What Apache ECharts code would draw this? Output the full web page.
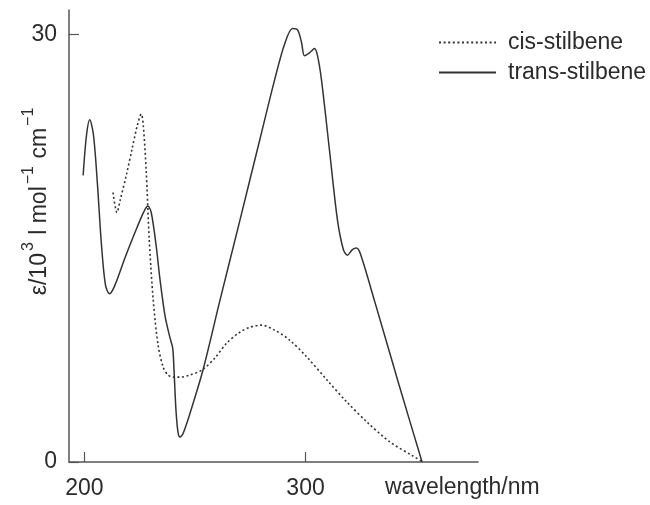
<!DOCTYPE html>
<html>
<head>
<meta charset="utf-8">
<script src="https://cdn.jsdelivr.net/npm/echarts@6/dist/echarts.min.js"></script>
<style>
  html, body { margin: 0; padding: 0; background: #fff; }
  #chart { width: 650px; height: 505px; }
</style>
</head>
<body>
<div id="chart"></div>
<script>
// wavelength (nm) / epsilon (10^3 l mol-1 cm-1)
const transWl = [199.4, 200.9, 202.4, 204.1, 205.9, 207.7, 209.5, 211.3, 213.5, 218.5, 223.9, 227.0, 228.7, 230.2, 232.4, 234.2, 236.5, 238.7, 239.9, 240.5, 241.4, 242.3, 243.2, 244.6, 247.7, 253.6, 261.3, 270.3, 279.3, 286.0, 290.5, 294.1, 296.4, 298.2, 299.5, 301.8, 304.1, 305.4, 307.2, 310.8, 314.4, 317.1, 318.9, 321.2, 323.0, 324.8, 331.1, 342.3, 352.7];
const transEps = [20.1, 22.9, 24.0, 22.9, 19.4, 15.2, 12.4, 11.8, 12.3, 14.4, 16.5, 17.6, 17.95, 17.5, 15.2, 12.75, 10.2, 8.7, 8.0, 6.45, 3.6, 2.1, 1.75, 2.0, 3.4, 6.45, 11.35, 16.95, 22.6, 26.8, 29.3, 30.4, 30.3, 29.4, 28.5, 28.7, 29.0, 28.5, 26.8, 21.9, 17.0, 14.9, 14.5, 14.9, 15.0, 14.6, 11.35, 5.4, 0];

const cisWl = [212.9, 214.7, 216.2, 218.9, 221.6, 223.9, 225.7, 226.6, 227.9, 229.3, 231.1, 233.3, 235.6, 237.8, 240.1, 243.2, 247.7, 253.6, 259.0, 264.4, 270.3, 274.8, 280.0, 286.0, 292.8, 300.6, 309.7, 318.7, 327.8, 338.2, 348.6, 353.1];
const cisEps = [18.9, 17.5, 18.4, 20.1, 22.0, 23.6, 24.4, 23.6, 20.5, 15.6, 11.35, 8.2, 6.65, 6.1, 5.95, 5.95, 6.1, 6.5, 7.3, 8.35, 9.1, 9.45, 9.6, 9.25, 8.55, 7.36, 5.75, 4.2, 2.8, 1.4, 0.42, 0];

const xTicks = [200, 300];
const yTicks = [0, 30];

const font = '"Liberation Sans", Arial, "DejaVu Sans", sans-serif';
const ink = "#2b2b2b";

const chart = echarts.init(document.getElementById("chart"));

chart.setOption({
  animation: false,
  backgroundColor: "#fff",
  grid: { left: 69, right: 172, top: 10, bottom: 43, outerBoundsMode: "none" },
  legend: {
    orient: "vertical",
    left: 438,
    top: 31,
    padding: 0,
    itemWidth: 57,
    itemHeight: 16,
    itemGap: 7,
    itemStyle: { opacity: 0 },
    data: ["cis-stilbene", "trans-stilbene"],
    textStyle: { fontFamily: font, fontSize: 23, color: ink, padding: [0, 0, 0, 7] }
  },
  xAxis: {
    type: "value",
    min: 193,
    max: 378,
    splitLine: { show: false },
    axisLine: { lineStyle: { color: "#555", width: 1.5 } },
    axisTick: { inside: true, length: 10, customValues: xTicks, lineStyle: { color: "#555", width: 1.2 } },
    axisLabel: { customValues: xTicks, margin: 15, fontFamily: font, fontSize: 23, color: ink }
  },
  yAxis: {
    type: "value",
    min: 0,
    max: 31.7,
    splitLine: { show: false },
    axisLine: { show: true, lineStyle: { color: "#555", width: 1.5 } },
    axisTick: { show: true, inside: true, length: 10, customValues: yTicks, lineStyle: { color: "#555", width: 1.2 } },
    axisLabel: { customValues: yTicks, margin: 12, fontFamily: font, fontSize: 23, color: ink }
  },
  graphic: [
    {
      type: "text",
      left: 385,
      top: 476,
      style: { text: "wavelength/nm", font: "23px " + font, fill: ink }
    },
    {
      type: "text",
      x: 36,
      y: 201,
      rotation: Math.PI / 2,
      style: {
        text: "{n|ε/10}{sup|3}{n| l mol}{sup|−1}{n| cm}{sup|−1}",
        fill: ink,
        align: "center",
        verticalAlign: "middle",
        rich: {
          n: { fontSize: 23, fontFamily: font, fill: ink, lineHeight: 30, verticalAlign: "bottom" },
          sup: { fontSize: 16, fontFamily: font, fill: ink, lineHeight: 22, verticalAlign: "top", padding: [0, 1, 0, 2] }
        }
      }
    }
  ],
  series: [
    {
      name: "cis-stilbene",
      type: "line",
      smooth: 0.3,
      symbol: "none",
      lineStyle: { color: "#333", width: 1.6, type: [2, 2.6] },
      itemStyle: { color: "#333" },
      data: cisWl.map((w, i) => [w, cisEps[i]])
    },
    {
      name: "trans-stilbene",
      type: "line",
      smooth: 0.3,
      symbol: "none",
      lineStyle: { color: "#333", width: 1.5 },
      itemStyle: { color: "#333" },
      data: transWl.map((w, i) => [w, transEps[i]])
    }
  ]
});
</script>
</body>
</html>
